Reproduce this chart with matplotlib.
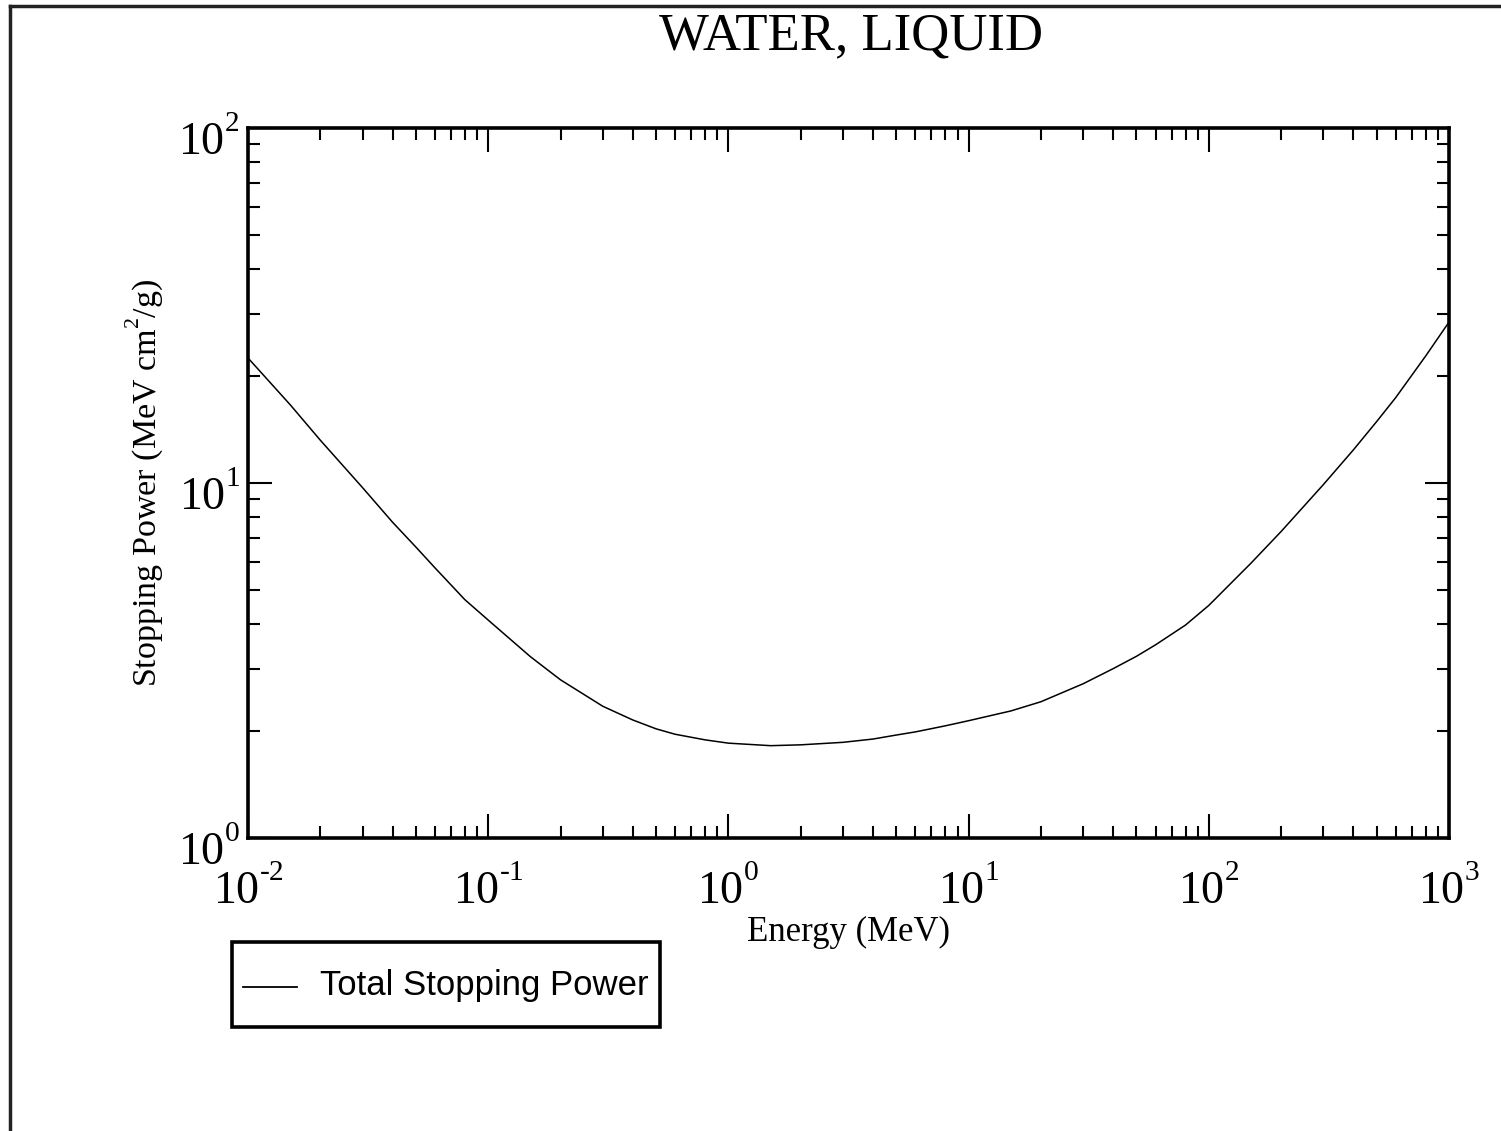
import numpy as np
import matplotlib
matplotlib.use("Agg")
import matplotlib.pyplot as plt
from matplotlib.lines import Line2D
from matplotlib.transforms import ScaledTranslation
from matplotlib.ticker import LogLocator, FuncFormatter, NullFormatter

# values (MeV, MeV cm2/g)
energy = [0.01, 0.015, 0.02, 0.03, 0.04, 0.05, 0.06, 0.08, 0.1, 0.15, 0.2,
          0.3, 0.4, 0.5, 0.6, 0.8, 1, 1.5, 2, 3, 4, 5, 6, 8, 10, 15, 20,
          30, 40, 50, 60, 80, 100, 150, 200, 300, 400, 500, 600, 800, 1000]
total_sp = [22.5, 16.6, 13.2, 9.7, 7.75, 6.6, 5.77, 4.69, 4.11, 3.24, 2.79,
            2.35, 2.15, 2.03, 1.96, 1.89, 1.85, 1.82, 1.83, 1.86, 1.90, 1.95, 1.99, 2.07, 2.14, 2.28, 2.42,
            2.72, 3.0, 3.25, 3.5, 3.98, 4.52, 5.95, 7.3, 9.9, 12.4, 14.9, 17.4, 22.8, 28.4]

title = "WATER, LIQUID"
xlabel = "Energy (MeV)"
ylabel = "Stopping Power (MeV cm$^2$/g)"
series_name = "Total Stopping Power"

plt.rcParams['mathtext.fontset'] = 'custom'
plt.rcParams['mathtext.rm'] = 'Liberation Serif'
plt.rcParams['mathtext.it'] = 'Liberation Serif:italic'
plt.rcParams['mathtext.bf'] = 'Liberation Serif:bold'
try:
    # smaller, higher superscripts like the original
    import matplotlib._mathtext as mt
    mt.SHRINK_FACTOR = 0.64
    mt.FontConstantsBase.sup1 = 1.1
except Exception:
    pass


def pow10(v, pos):
    e = int(round(np.log10(v)))
    if e < 0:
        return '$10^{\u2010%d}$' % (-e)
    return '$10^{%d}$' % e


W, H = 1501, 1131
fig = plt.figure(figsize=(W / 100, H / 100), dpi=100)
ax = fig.add_axes([248 / W, 1 - 838 / H, (1449 - 248) / W, (838 - 128) / H])

line, = ax.plot(energy, total_sp, color='black', lw=1.1)

ax.set_xscale('log')
ax.set_yscale('log')
ax.set_xlim(1e-2, 1e3)
ax.set_ylim(1, 100)

for a in (ax.xaxis, ax.yaxis):
    a.set_major_locator(LogLocator(base=10, numticks=20))
    a.set_minor_locator(LogLocator(base=10, subs=np.arange(2, 10), numticks=20))
    a.set_major_formatter(FuncFormatter(pow10))
    a.set_minor_formatter(NullFormatter())

ax.tick_params(which='both', direction='in', top=True, right=True, width=1.5, colors='black')
ax.tick_params(which='major', length=17)
ax.tick_params(which='minor', length=8.5)
ax.tick_params(axis='x', which='major', pad=21, labelsize=33)
ax.tick_params(axis='y', which='major', pad=6, labelsize=33)
shift_down = ScaledTranslation(0, -9 / 100, fig.dpi_scale_trans)
for lab in ax.get_xticklabels():
    lab.set_family('Liberation Serif')
for lab in ax.get_yticklabels():
    lab.set_family('Liberation Serif')
    lab.set_transform(lab.get_transform() + shift_down)
for s in ax.spines.values():
    s.set_linewidth(2.6)

ax.set_xlabel(xlabel, family='Liberation Serif', fontsize=25, labelpad=1)
ax.set_ylabel(ylabel, family='Liberation Serif', fontsize=24.5, labelpad=8.5)

fig.text(851 / W, 1 - 36 / H, title, family='Liberation Serif', fontsize=38,
         ha='center', va='center')

leg = fig.legend([line], [series_name], loc='upper left',
                 bbox_to_anchor=(232 / W, 1 - 942 / H), prop={'family': 'Liberation Sans', 'size': 25},
                 frameon=True, fancybox=False, edgecolor='black', framealpha=1,
                 handlelength=1.55, handleheight=2.4, handletextpad=0.66,
                 borderpad=0.32, borderaxespad=0)
leg.get_frame().set_linewidth(2.6)
hline = leg.get_lines()[0]
hline.set_linewidth(1.3)
hline.set_ydata(np.asarray(hline.get_ydata()) - 9.4)

# page border on top and left edge
fig.add_artist(Line2D([10 / W, 1], [1 - 6 / H, 1 - 6 / H], color='#222222', lw=2.5))
fig.add_artist(Line2D([10 / W, 10 / W], [0, 1 - 6 / H], color='#222222', lw=2.5))

fig.savefig("out.png", dpi=100, facecolor='white')
